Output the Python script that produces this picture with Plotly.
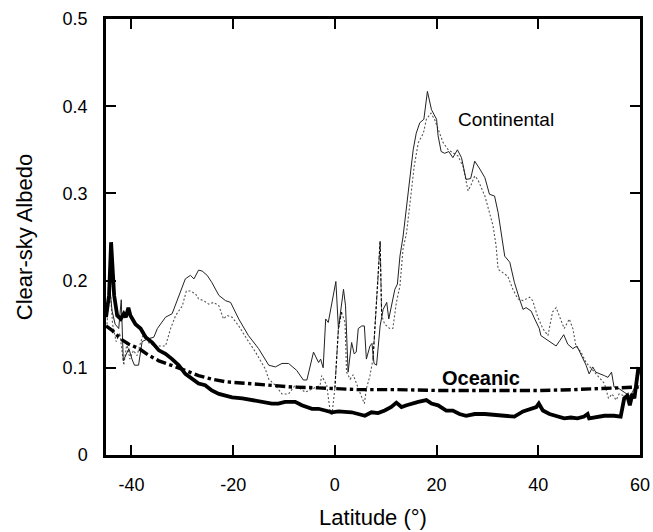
import numpy as np
import plotly.graph_objects as go

# ---------------- data ----------------
cont_lat = [-44.8, -44.3, -43.8, -43.2, -42.5, -42.0, -41.6, -41.0, -40.5, -39.9, -39.4, -38.6, -37.9, -36.9,
            -35.6, -34.9, -33.3, -32.0, -31.0, -29.4, -28.4, -27.7, -26.8, -26.1, -25.1, -24.2, -22.8, -21.5,
            -20.5, -18.9, -17.0, -15.0, -13.0, -11.7, -10.4, -9.1, -7.5, -6.2, -5.5, -4.2, -3.2, -2.8, -2.3,
            -1.8, -1.3, -0.7, 0.2, 0.7, 1.2, 1.7, 2.1, 2.6, 3.3, 3.8, 4.2, 4.6, 5.3, 5.8, 6.2, 6.9, 7.3, 7.7,
            8.2, 8.9, 9.5, 10.2, 10.6, 11.1, 11.8, 12.3, 12.8, 13.4, 14.4, 15.4, 16.0, 16.7, 17.5, 18.2, 19.0,
            20.0, 20.3, 20.9, 21.6, 22.4, 23.2, 24.1, 24.9, 25.8, 26.7, 27.5, 28.5, 29.5, 30.4, 31.4, 32.1,
            32.8, 33.4, 34.4, 35.3, 36.3, 37.0, 37.6, 38.6, 39.3, 40.2, 40.5, 41.5, 42.5, 43.5, 44.2, 45.0,
            45.8, 46.8, 47.6, 48.4, 49.4, 50.0, 50.7, 51.3, 52.3, 53.0, 53.7, 54.4, 54.9, 55.9, 56.9, 57.9,
            58.5, 59.2, 60.0]
cont_solid = [0.160, 0.195, 0.165, 0.150, 0.145, 0.178, 0.108, 0.115, 0.122, 0.110, 0.103, 0.103, 0.130, 0.133,
              0.135, 0.145, 0.158, 0.162, 0.177, 0.202, 0.206, 0.202, 0.212, 0.211, 0.206, 0.198, 0.183, 0.177,
              0.175, 0.156, 0.137, 0.122, 0.103, 0.101, 0.105, 0.105, 0.097, 0.086, 0.086, 0.118, 0.106, 0.110,
              0.100, 0.156, 0.152, 0.171, 0.199, 0.145, 0.171, 0.190, 0.171, 0.095, 0.129, 0.116, 0.118, 0.145,
              0.148, 0.148, 0.110, 0.125, 0.128, 0.105, 0.103, 0.148, 0.167, 0.175, 0.156, 0.171, 0.190, 0.196,
              0.228, 0.250, 0.297, 0.350, 0.369, 0.381, 0.385, 0.417, 0.396, 0.385, 0.366, 0.348, 0.346, 0.348,
              0.341, 0.350, 0.341, 0.316, 0.317, 0.337, 0.328, 0.318, 0.299, 0.297, 0.278, 0.251, 0.228, 0.221,
              0.198, 0.179, 0.167, 0.169, 0.165, 0.156, 0.145, 0.137, 0.133, 0.129, 0.125, 0.131, 0.138, 0.127,
              0.122, 0.125, 0.116, 0.103, 0.093, 0.101, 0.095, 0.093, 0.091, 0.089, 0.095, 0.078, 0.076, 0.072,
              0.068, 0.072, 0.080, 0.097]

dot_lat = [-44.8, -44.3, -43.7, -43.0, -42.3, -41.5, -40.9, -40.3, -39.6, -38.9, -38.2, -37.5, -36.5, -35.3,
           -33.3, -32.3, -31.3, -30.0, -29.2, -28.4, -27.4, -26.8, -25.8, -24.8, -23.8, -22.8, -21.9, -21.2,
           -20.2, -18.9, -17.3, -15.6, -13.7, -13.0, -11.7, -10.4, -9.1, -7.8, -5.8, -4.5, -2.9, -2.6, -1.6,
           -0.9, -0.6, 0.0, 0.7, 1.3, 2.0, 2.3, 3.0, 3.6, 4.3, 4.9, 5.8, 6.2, 6.9, 7.5, 8.4, 8.9, 9.2, 9.8,
           10.8, 11.4, 12.1, 12.8, 13.4, 14.1, 14.7, 15.6, 16.4, 17.4, 18.0, 18.9, 19.6, 20.3, 21.3, 22.3,
           23.4, 24.2, 25.2, 26.2, 26.8, 27.5, 28.1, 29.5, 30.4, 31.1, 31.7, 32.1, 34.0, 35.0, 36.0, 37.0,
           38.3, 38.9, 39.9, 40.9, 41.9, 42.8, 43.5, 44.0, 44.5, 45.1, 46.1, 46.8, 47.4, 48.4, 49.4, 50.4,
           51.7, 53.0, 53.8, 54.5, 55.3, 55.9, 56.9, 57.8, 58.8, 60.0]
dot_val = [0.150, 0.200, 0.150, 0.130, 0.140, 0.103, 0.128, 0.110, 0.120, 0.114, 0.129, 0.141, 0.128, 0.125,
           0.125, 0.145, 0.160, 0.171, 0.188, 0.188, 0.185, 0.179, 0.177, 0.173, 0.175, 0.171, 0.156, 0.160,
           0.158, 0.148, 0.133, 0.118, 0.099, 0.087, 0.080, 0.070, 0.070, 0.080, 0.072, 0.076, 0.080, 0.091,
           0.080, 0.049, 0.045, 0.076, 0.145, 0.164, 0.152, 0.095, 0.087, 0.092, 0.080, 0.072, 0.059, 0.076,
           0.091, 0.110, 0.194, 0.245, 0.160, 0.150, 0.145, 0.145, 0.175, 0.194, 0.236, 0.255, 0.285, 0.331,
           0.358, 0.369, 0.385, 0.392, 0.385, 0.373, 0.358, 0.350, 0.346, 0.343, 0.331, 0.303, 0.310, 0.320,
           0.316, 0.297, 0.278, 0.263, 0.240, 0.213, 0.205, 0.190, 0.179, 0.177, 0.181, 0.177, 0.158, 0.145,
           0.137, 0.164, 0.169, 0.162, 0.154, 0.145, 0.156, 0.145, 0.125, 0.118, 0.106, 0.099, 0.091, 0.082,
           0.065, 0.070, 0.063, 0.070, 0.068, 0.066, 0.072, 0.080]

ocean_lat = [-45.0, -44.4, -44.0, -43.4, -42.8, -42.1, -41.5, -41.1, -40.6, -40.2, -39.2, -38.2, -37.2, -35.9,
             -34.6, -33.3, -32.0, -30.7, -29.4, -28.1, -26.8, -25.5, -24.2, -22.8, -21.5, -20.2, -18.2, -16.3,
             -14.4, -12.4, -11.1, -9.8, -7.8, -6.5, -4.5, -3.2, -1.9, -0.6, 0.7, 2.0, 3.3, 4.6, 5.9, 7.2, 8.5,
             9.8, 11.1, 12.1, 13.1, 14.1, 15.1, 16.4, 18.0, 19.0, 20.3, 21.9, 23.2, 24.5, 25.8, 27.5, 29.5,
             31.5, 33.4, 35.3, 37.0, 38.6, 39.6, 40.1, 40.9, 42.2, 43.8, 45.1, 46.4, 47.7, 49.0, 49.7, 50.0,
             51.5, 53.0, 54.9, 56.2, 56.9, 57.5, 58.0, 58.5, 58.9, 59.2, 59.7]
ocean_solid = [0.158, 0.183, 0.244, 0.183, 0.160, 0.156, 0.162, 0.158, 0.169, 0.160, 0.150, 0.145, 0.135, 0.129,
               0.120, 0.116, 0.110, 0.103, 0.093, 0.087, 0.082, 0.080, 0.074, 0.070, 0.068, 0.066, 0.065, 0.063,
               0.061, 0.059, 0.059, 0.061, 0.061, 0.057, 0.053, 0.053, 0.051, 0.049, 0.050, 0.050, 0.049, 0.047,
               0.045, 0.049, 0.048, 0.051, 0.055, 0.060, 0.055, 0.057, 0.059, 0.061, 0.063, 0.059, 0.057, 0.051,
               0.051, 0.047, 0.045, 0.047, 0.047, 0.046, 0.044, 0.044, 0.050, 0.053, 0.055, 0.059, 0.051, 0.047,
               0.044, 0.042, 0.043, 0.042, 0.044, 0.047, 0.042, 0.044, 0.045, 0.045, 0.044, 0.065, 0.068, 0.057,
               0.070, 0.065, 0.080, 0.101]

ocean2_lat = [-45.0, -43.8, -42.1, -40.5, -38.5, -36.5, -34.6, -32.0, -29.4, -26.8, -24.2, -21.5, -17.6, -13.7,
              -8.5, -3.2, 4.5, 12.0, 20.3, 30.0, 40.2, 47.0, 53.0, 60.0]
ocean2_val = [0.148, 0.143, 0.133, 0.127, 0.122, 0.114, 0.108, 0.103, 0.097, 0.091, 0.087, 0.084, 0.082, 0.080,
              0.078, 0.077, 0.075, 0.075, 0.074, 0.074, 0.074, 0.075, 0.076, 0.078]

x_ticks = [-40, -20, 0, 20, 40, 60]
x_ticktext = ["-40", "-20", "0", "20", "40", "60"]
y_ticks = [0, 0.1, 0.2, 0.3, 0.4, 0.5]
y_ticktext = ["0", "0.1", "0.2", "0.3", "0.4", "0.5"]

FONT = "Liberation Sans, Arial, sans-serif"

dl = np.array(dot_lat)
dv = np.array(dot_val)

fig = go.Figure()
fig.add_trace(go.Scatter(x=dot_lat, y=dot_val, mode="lines",
                         line=dict(color="#555555", width=1.1, dash="2px,2px"), hoverinfo="skip"))
# darker dashed segments of the dotted curve
for lo, hi in [(0.0, 1.3), (7.5, 9.2)]:
    m = (dl >= lo) & (dl <= hi)
    fig.add_trace(go.Scatter(x=dl[m], y=dv[m], mode="lines",
                             line=dict(color="black", width=1.1, dash="3px,2px"), hoverinfo="skip"))
fig.add_trace(go.Scatter(x=cont_lat, y=cont_solid, mode="lines",
                         line=dict(color="#222222", width=1.0), hoverinfo="skip"))
fig.add_trace(go.Scatter(x=ocean2_lat, y=ocean2_val, mode="lines",
                         line=dict(color="black", width=3.4, dash="dashdot"), hoverinfo="skip"))
fig.add_trace(go.Scatter(x=ocean_lat, y=ocean_solid, mode="lines",
                         line=dict(color="black", width=3.8), hoverinfo="skip"))

fig.add_annotation(x=33.7, y=0.385, text="Continental", showarrow=False,
                   font=dict(family=FONT, size=19, color="black"))
fig.add_annotation(x=28.8, y=0.088, text="<b>Oceanic</b>", showarrow=False,
                   font=dict(family=FONT, size=20, color="black"))

axis_common = dict(showline=True, linecolor="black", linewidth=2.5, mirror="ticks",
                   ticks="inside", ticklen=10, tickwidth=2, tickcolor="black",
                   showgrid=False, zeroline=False, automargin=False,
                   tickfont=dict(family=FONT, size=18, color="black"))

fig.update_xaxes(range=[-45, 60], tickvals=x_ticks, ticktext=x_ticktext,
                 title=dict(text="Latitude (°)", font=dict(family=FONT, size=22, color="black"), standoff=16),
                 ticklabelstandoff=12, **axis_common)
fig.update_yaxes(range=[0, 0.5], tickvals=y_ticks, ticktext=y_ticktext,
                 title=dict(text="Clear-sky Albedo", font=dict(family=FONT, size=22, color="black"), standoff=24),
                 ticklabelstandoff=12, **axis_common)

fig.update_layout(width=653, height=532, showlegend=False,
                  margin=dict(l=106, r=13, t=19, b=77),
                  plot_bgcolor="white", paper_bgcolor="white")

fig.write_html("out.html")
